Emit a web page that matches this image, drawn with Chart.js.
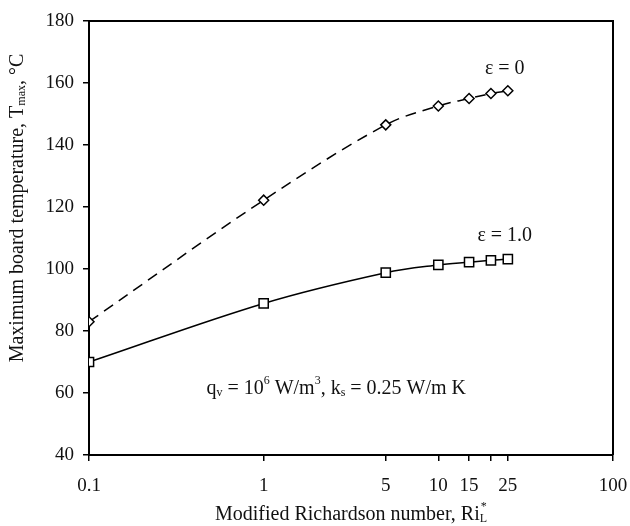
<!DOCTYPE html>
<html>

<head>
    <title>Maximum board temperature</title>
    <meta charset="UTF-8">
    <script src="https://cdn.jsdelivr.net/npm/chart.js@4"></script>
    <style>
        body { margin: 0; background: #fff; }
    </style>
</head>

<body>
    <canvas id="myChart" width="630" height="526"></canvas>

    <script>
        // Ri_L* values and maximum board temperatures for both emissivities
        const riValues = [0.1, 1, 5, 10, 15, 20, 25];
        const tempEps0 = [83.0, 122.2, 146.5, 152.6, 155.0, 156.6, 157.5];
        const tempEps1 = [70.0, 88.9, 98.8, 101.3, 102.2, 102.8, 103.2];

        const xTicks = [0.1, 1, 5, 10, 15, 20, 25, 100];
        const xTickLabels = ['0.1', '1', '5', '10', '15', '', '25', '100'];

        const serif = '"Liberation Serif", "Times New Roman", serif';
        const textSize = 20;
        const tickSize = 19;

        // draws text made of runs, some of them sub- or superscript
        function drawRich(ctx, parts, x, y, align) {
            const big = textSize + 'px ' + serif;
            const small = Math.round(textSize * 0.62) + 'px ' + serif;
            let total = 0;
            parts.forEach(p => {
                ctx.font = p.sub || p.sup ? small : big;
                p.w = ctx.measureText(p.t).width;
                if (!p.stack) total += p.w;
            });
            let cx = align === 'center' ? x - total / 2 : x;
            let last = 0;
            parts.forEach(p => {
                ctx.font = p.sub || p.sup ? small : big;
                let dy = 0;
                if (p.sub) dy = 4;
                if (p.sup) dy = -8;
                const px = p.stack ? cx - last + 1 : cx;
                ctx.fillText(p.t, px, y + dy);
                if (!p.stack) { cx += p.w; last = p.w; }
            });
        }

        const extras = {
            id: 'extras',
            afterDraw(chart) {
                const ctx = chart.ctx;
                const a = chart.chartArea;
                const x = chart.scales.x, y = chart.scales.y;
                ctx.save();
                ctx.strokeStyle = '#000';
                ctx.lineWidth = 2;
                ctx.beginPath();
                ctx.moveTo(a.left, a.top);
                ctx.lineTo(a.right, a.top);
                ctx.lineTo(a.right, a.bottom);
                ctx.stroke();

                ctx.fillStyle = '#111';
                ctx.textBaseline = 'middle';
                ctx.textAlign = 'left';

                // curve labels
                drawRich(ctx, [{ t: 'ε = 0' }], x.getPixelForValue(24), y.getPixelForValue(164.5), 'center');
                drawRich(ctx, [{ t: 'ε = 1.0' }], x.getPixelForValue(24), y.getPixelForValue(110.7), 'center');

                // operating conditions
                drawRich(ctx, [
                    { t: 'q' }, { t: 'v', sub: true }, { t: ' = 10' }, { t: '6', sup: true },
                    { t: ' W/m' }, { t: '3', sup: true }, { t: ', k' }, { t: 's', sub: true },
                    { t: ' = 0.25 W/m K' }
                ], x.getPixelForValue(0.47), y.getPixelForValue(61.5), 'left');

                // axis titles
                drawRich(ctx, [
                    { t: 'Modified Richardson number, Ri' }, { t: 'L', sub: true }, { t: '*', sup: true, stack: true }
                ], (a.left + a.right) / 2, 515, 'center');

                ctx.translate(18, 208);
                ctx.rotate(-Math.PI / 2);
                drawRich(ctx, [
                    { t: 'Maximum board temperature, T' }, { t: 'max', sub: true }, { t: ', °C' }
                ], 0, 0, 'center');
                ctx.restore();
            }
        };

        const ctx = document.getElementById('myChart').getContext('2d');
        const chart = new Chart(ctx, {
            type: 'line',
            data: {
                datasets: [{
                    label: 'ε = 0',
                    data: riValues.map((r, i) => ({ x: r, y: tempEps0[i] })),
                    borderColor: '#000',
                    borderWidth: 1.5,
                    borderDash: [11, 7],
                    tension: 0.35,
                    pointStyle: 'rectRot',
                    pointRadius: 5,
                    pointBackgroundColor: '#fff',
                    pointBorderColor: '#000',
                    pointBorderWidth: 1.5
                }, {
                    label: 'ε = 1.0',
                    data: riValues.map((r, i) => ({ x: r, y: tempEps1[i] })),
                    borderColor: '#000',
                    borderWidth: 1.5,
                    tension: 0.35,
                    pointStyle: 'rect',
                    pointRadius: 6.5,
                    pointBackgroundColor: '#fff',
                    pointBorderColor: '#000',
                    pointBorderWidth: 1.5
                }]
            },
            options: {
                responsive: false,
                animation: false,
                devicePixelRatio: 1,
                layout: { padding: { top: 21, right: 17, left: 0, bottom: 0 } },
                plugins: {
                    legend: { display: false },
                    tooltip: { enabled: false }
                },
                scales: {
                    x: {
                        type: 'logarithmic',
                        min: 0.1,
                        max: 100,
                        afterBuildTicks: s => { s.ticks = xTicks.map(v => ({ value: v })); },
                        afterFit: s => {
                            s.height = 71;
                            s.paddingLeft = 0;
                            s.paddingRight = 0;
                        },
                        ticks: {
                            autoSkip: false,
                            maxRotation: 0,
                            padding: 14,
                            color: '#111',
                            font: { family: serif, size: tickSize },
                            callback: (v, i) => xTickLabels[i]
                        },
                        grid: { drawOnChartArea: false, drawTicks: true, tickLength: 6, color: '#000', lineWidth: 1.5 },
                        border: { display: true, color: '#000', width: 2 }
                    },
                    y: {
                        min: 40,
                        max: 180,
                        afterFit: s => {
                            s.width = 89;
                            s.paddingTop = 0;
                            s.paddingBottom = 0;
                        },
                        ticks: {
                            stepSize: 20,
                            padding: 9,
                            color: '#111',
                            font: { family: serif, size: tickSize }
                        },
                        grid: { drawOnChartArea: false, drawTicks: true, tickLength: 6, color: '#000', lineWidth: 1.5 },
                        border: { display: true, color: '#000', width: 2 }
                    }
                }
            },
            plugins: [extras]
        });
    </script>

</body>

</html>
